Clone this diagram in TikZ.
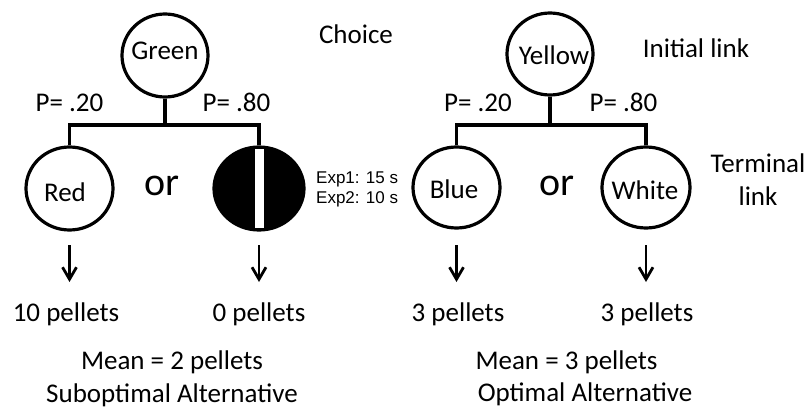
\documentclass[tikz,border=0pt]{standalone}
\usepackage{fontspec}
\setmainfont{Carlito}
\newfontfamily\arialf{Liberation Sans}
\usetikzlibrary{arrows.meta,shapes.geometric}
\begin{document}
\begin{tikzpicture}[x=1pt,y=-1pt,
  circ/.style={draw, line width=3.2pt, ellipse, inner sep=0pt},
  txt/.style={inner sep=0pt, anchor=base, font=\fontsize{27}{30}\selectfont},
  ortxt/.style={inner sep=0pt, anchor=base, font=\fontsize{40}{44}\selectfont},
  exptxt/.style={inner sep=0pt, anchor=base west, font=\arialf\fontsize{17}{19}\selectfont},
  conn/.style={line width=3.2pt},
  arr/.style={line width=2.8pt, -{Straight Barb[length=12pt,width=14pt,line width=2.8pt]}}
]
\useasboundingbox (0,0) rectangle (809,409);

% ---------- left tree ----------
\node[circ, minimum width=86pt, minimum height=83pt] (green) at (165,55.5) {};
\node[txt] (greent) at (165,60) {Green};
\node[circ, minimum width=87pt, minimum height=83pt] (red) at (69.5,188.5) {};
\node[txt] (redt) at (65,201) {Red};
\node[circ, fill=black, minimum width=90pt, minimum height=83pt] (blk) at (259,188.5) {};
\begin{scope}
  \clip (259,188.5) ellipse [x radius=45pt, y radius=41.5pt];
  \draw[line width=1.6pt, fill=white] (254.5,148.5) rectangle (264.5,228.5);
\end{scope}
\coordinate (gj) at (165,125);
\draw[conn] (green.south) -- (gj);
\draw[conn] (red.north) |- (gj) -| (blk.north);

\node[txt] (p1) at (69.5,112) {P= .20};
\node[txt] (p2) at (236.5,112) {P= .80};
\node[txt] (choice) at (356,44) {Choice};
\node[ortxt] (or1) at (162,196) {or};
\node[exptxt] (exp1) at (316,183) {Exp1: 15 s};
\node[exptxt] (exp2) at (316,204) {Exp2: 10 s};

\coordinate (a1s) at (69.5,245);
\coordinate (a1e) at (69.5,282);
\coordinate (a2s) at (259,245);
\coordinate (a2e) at (259,282);
\draw[arr] (a1s) -- (a1e);
\draw[arr] (a2s) -- (a2e);
\node[txt] (r1) at (66,321) {10 pellets};
\node[txt] (r2) at (259,321) {0 pellets};
\node[txt] (m1) at (172,369) {Mean = 2 pellets};
\node[txt] (s1) at (172,402) {Suboptimal Alternative};

% ---------- right tree ----------
\node[circ, minimum width=86pt, minimum height=82pt] (yellow) at (550,54) {};
\node[txt] (yellowt) at (554,65) {Yellow};
\node[circ, minimum width=87pt, minimum height=81pt] (blue) at (456.5,187.5) {};
\node[txt] (bluet) at (454,198) {Blue};
\node[circ, minimum width=88pt, minimum height=81pt] (white) at (646,187.5) {};
\node[txt] (whitet) at (645,200) {White};
\coordinate (yj) at (550,125);
\draw[conn] (yellow.south) -- (yj);
\draw[conn] (blue.north) |- (yj) -| (white.north);

\node[txt] (p3) at (478,112) {P= .20};
\node[txt] (p4) at (623.5,112) {P= .80};
\node[txt] (init) at (696,58) {Initial link};
\node[ortxt] (or2) at (557,196) {or};
\node[txt] (term1) at (758,173) {Terminal};
\node[txt] (term2) at (758,206) {link};

\coordinate (a3s) at (456.5,245);
\coordinate (a3e) at (456.5,282);
\coordinate (a4s) at (646,245);
\coordinate (a4e) at (646,282);
\draw[arr] (a3s) -- (a3e);
\draw[arr] (a4s) -- (a4e);
\node[txt] (r3) at (458,321) {3 pellets};
\node[txt] (r4) at (647,321) {3 pellets};
\node[txt] (m2) at (566.5,369) {Mean = 3 pellets};
\node[txt] (s2) at (585,401) {Optimal Alternative};
\end{tikzpicture}
\end{document}
